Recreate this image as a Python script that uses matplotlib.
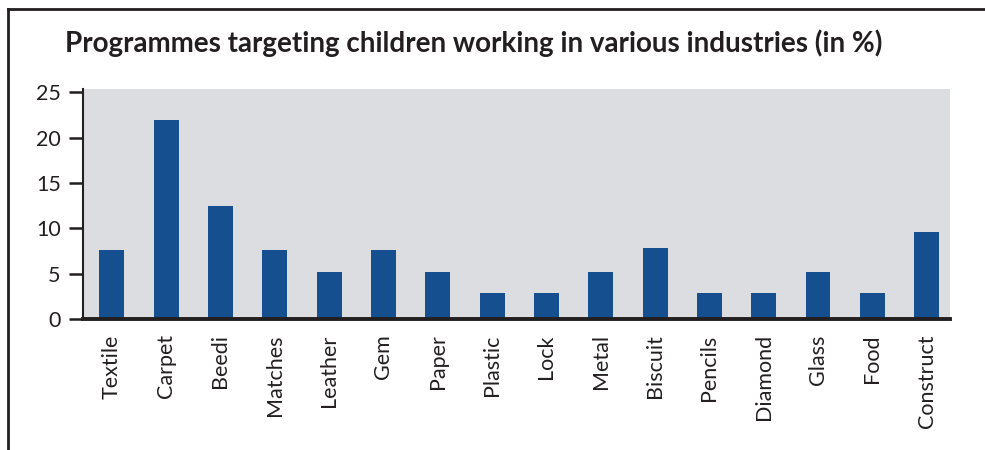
import matplotlib
matplotlib.use("Agg")
import matplotlib.pyplot as plt
from matplotlib.lines import Line2D

categories = ["Textile", "Carpet", "Beedi", "Matches", "Leather", "Gem", "Paper",
              "Plastic", "Lock", "Metal", "Biscuit", "Pencils", "Diamond", "Glass",
              "Food", "Construct"]
values = [7.6, 21.9, 12.5, 7.6, 5.2, 7.6, 5.2, 2.9, 2.9, 5.2, 7.8, 2.9, 2.9, 5.2, 2.9, 9.6]
yticks = [0, 5, 10, 15, 20, 25]
title = "Programmes targeting children working in various industries (in %)"

plt.rcParams['font.family'] = ['Lato', 'DejaVu Sans']

fig = plt.figure(figsize=(9.85, 4.5), dpi=100)
ax = fig.add_axes([83/985, 1-319/450, (950-83)/985, (319-89)/450])
ax.set_facecolor("#dcdde0")
x = list(range(len(categories)))
ax.bar(x, values, width=0.46, color="#154f8f", zorder=2)
ax.set_xlim(-0.53, 15.43)
ax.set_ylim(0, 25.35)
ax.set_yticks(yticks)
ax.set_yticklabels([str(v) for v in yticks], fontsize=15.5, color="#231f20")
ax.set_xticks(x)
ax.set_xticklabels(categories, rotation=90, fontsize=15.5, color="#231f20", va="top")
ax.tick_params(axis="x", length=0, pad=11)
ax.tick_params(axis="y", length=10, width=1.8, color="#231f20", pad=6, direction="out")
for s in ["top", "right"]:
    ax.spines[s].set_visible(False)
ax.spines["left"].set_linewidth(1.5)
ax.spines["left"].set_color("#231f20")
ax.spines["bottom"].set_linewidth(2.8)
ax.spines["bottom"].set_color("#231f20")

fig.text(65/985, 1-43/450, title, fontsize=20, fontweight="bold", color="#231f20",
         ha="left", va="center")

# outer frame (top and left edges)
fig.add_artist(Line2D([8/985, 1.0], [1-9/450, 1-9/450], color="#231f20", lw=2,
                      transform=fig.transFigure))
fig.add_artist(Line2D([8/985, 8/985], [1-9/450, 0], color="#231f20", lw=2,
                      transform=fig.transFigure))

fig.savefig("out.png", dpi=100)
